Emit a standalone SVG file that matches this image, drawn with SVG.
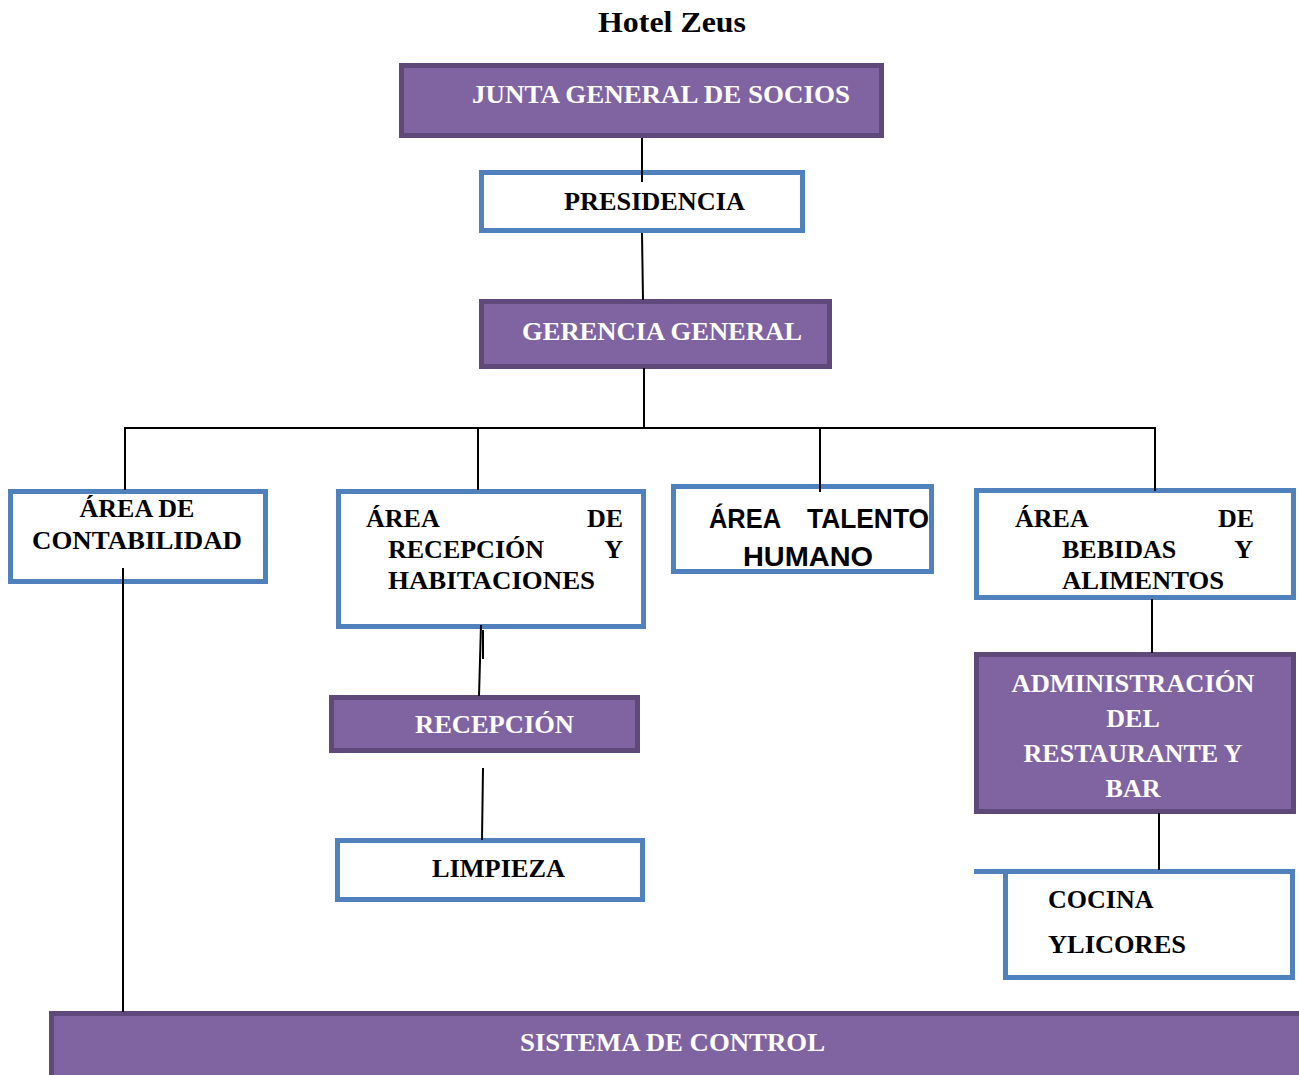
<svg xmlns="http://www.w3.org/2000/svg" width="1299" height="1075" viewBox="0 0 1299 1075">
  <style>
    .purple { fill: #8064a2; stroke: #5f497a; stroke-width: 5; }
    .blue { fill: #ffffff; stroke: #4f81bd; stroke-width: 5; }
    .t { font-family: "Liberation Serif", "Times New Roman", serif; font-weight: bold; font-size: 26px; }
    .s { font-family: "Liberation Sans", Arial, sans-serif; font-weight: bold; font-size: 27px; }
    .w { fill: #ffffff; }
    .k { fill: #000000; }
    .conn line { stroke: #000000; stroke-width: 2; }
  </style>
  <rect width="1299" height="1075" fill="#ffffff"/>

  <text x="672" y="32" text-anchor="middle" font-family="Liberation Serif, serif" font-weight="bold" font-size="30" textLength="148" lengthAdjust="spacingAndGlyphs">Hotel Zeus</text>

  <g id="junta">
    <rect class="purple" x="401.5" y="65.5" width="480" height="70"/>
    <text class="t w" x="472" y="103" textLength="378" lengthAdjust="spacingAndGlyphs">JUNTA GENERAL DE SOCIOS</text>
  </g>

  <g id="presidencia">
    <rect class="blue" x="481.5" y="172.5" width="321" height="58"/>
    <text class="t k" x="564" y="210" textLength="181" lengthAdjust="spacingAndGlyphs">PRESIDENCIA</text>
  </g>

  <g id="gerencia">
    <rect class="purple" x="481.5" y="301.5" width="348" height="65"/>
    <text class="t w" x="522" y="340" textLength="280" lengthAdjust="spacingAndGlyphs">GERENCIA GENERAL</text>
  </g>

  <g id="contabilidad">
    <rect class="blue" x="10.5" y="491.5" width="255" height="90"/>
    <text class="t k" x="137" y="517" text-anchor="middle">ÁREA DE</text>
    <text class="t k" x="32" y="549" textLength="210" lengthAdjust="spacingAndGlyphs">CONTABILIDAD</text>
  </g>

  <g id="recepcion-habitaciones">
    <rect class="blue" x="338.5" y="491.5" width="305" height="135"/>
    <text class="t k" x="366" y="527">ÁREA</text>
    <text class="t k" x="623" y="527" text-anchor="end">DE</text>
    <text class="t k" x="388" y="558">RECEPCIÓN</text>
    <text class="t k" x="623" y="558" text-anchor="end">Y</text>
    <text class="t k" x="388" y="589" textLength="207" lengthAdjust="spacingAndGlyphs">HABITACIONES</text>
  </g>

  <g id="talento-humano">
    <rect class="blue" x="673.5" y="486.5" width="258" height="85"/>
    <text class="s k" x="709" y="528" textLength="72" lengthAdjust="spacingAndGlyphs">ÁREA</text>
    <text class="s k" x="929" y="528" text-anchor="end" textLength="122" lengthAdjust="spacingAndGlyphs">TALENTO</text>
    <text class="s k" x="743" y="566" textLength="130" lengthAdjust="spacingAndGlyphs">HUMANO</text>
  </g>

  <g id="bebidas-alimentos">
    <rect class="blue" x="976.5" y="490.5" width="317" height="107"/>
    <text class="t k" x="1015" y="527">ÁREA</text>
    <text class="t k" x="1254" y="527" text-anchor="end">DE</text>
    <text class="t k" x="1062" y="558">BEBIDAS</text>
    <text class="t k" x="1253" y="558" text-anchor="end">Y</text>
    <text class="t k" x="1062" y="589" textLength="162" lengthAdjust="spacingAndGlyphs">ALIMENTOS</text>
  </g>

  <g id="administracion">
    <rect class="purple" x="976.5" y="654.5" width="317" height="157"/>
    <text class="t w" x="1133" y="692" text-anchor="middle" textLength="243" lengthAdjust="spacingAndGlyphs">ADMINISTRACIÓN</text>
    <text class="t w" x="1133" y="727" text-anchor="middle">DEL</text>
    <text class="t w" x="1133" y="762" text-anchor="middle">RESTAURANTE Y</text>
    <text class="t w" x="1133" y="797" text-anchor="middle">BAR</text>
  </g>

  <g id="recepcion">
    <rect class="purple" x="331.5" y="697.5" width="306" height="53"/>
    <text class="t w" x="415" y="733" textLength="159" lengthAdjust="spacingAndGlyphs">RECEPCIÓN</text>
  </g>

  <g id="limpieza">
    <rect class="blue" x="337.5" y="840.5" width="305" height="59"/>
    <text class="t k" x="432" y="877" textLength="133" lengthAdjust="spacingAndGlyphs">LIMPIEZA</text>
  </g>

  <g id="cocina">
    <line x1="974" y1="871.5" x2="1006" y2="871.5" stroke="#4f81bd" stroke-width="5"/>
    <rect class="blue" x="1005.5" y="871.5" width="287" height="106"/>
    <text class="t k" x="1048" y="908">COCINA</text>
    <text class="t k" x="1048" y="953" textLength="138" lengthAdjust="spacingAndGlyphs">YLICORES</text>
  </g>

  <g id="sistema">
    <rect class="purple" x="51.5" y="1013.5" width="1252" height="66"/>
    <text class="t w" x="520" y="1051" textLength="305" lengthAdjust="spacingAndGlyphs">SISTEMA DE CONTROL</text>
  </g>

  <g id="connectors" class="conn">
    <line x1="642" y1="138" x2="642" y2="182"/>
    <line x1="642" y1="233" x2="643" y2="300"/>
    <line x1="644" y1="368" x2="644" y2="428"/>
    <line x1="125" y1="428" x2="1155" y2="428"/>
    <line x1="125" y1="427" x2="125" y2="490"/>
    <line x1="478" y1="427" x2="478" y2="490"/>
    <line x1="820" y1="427" x2="820" y2="492"/>
    <line x1="1155" y1="427" x2="1155" y2="491"/>
    <line x1="1152" y1="599" x2="1152" y2="653"/>
    <line x1="1159" y1="813" x2="1159" y2="870"/>
    <line x1="481" y1="625" x2="479" y2="696"/>
    <line x1="483" y1="630" x2="483" y2="659"/>
    <line x1="483" y1="768" x2="482" y2="840"/>
    <line x1="123" y1="568" x2="123" y2="1012"/>
  </g>
</svg>
